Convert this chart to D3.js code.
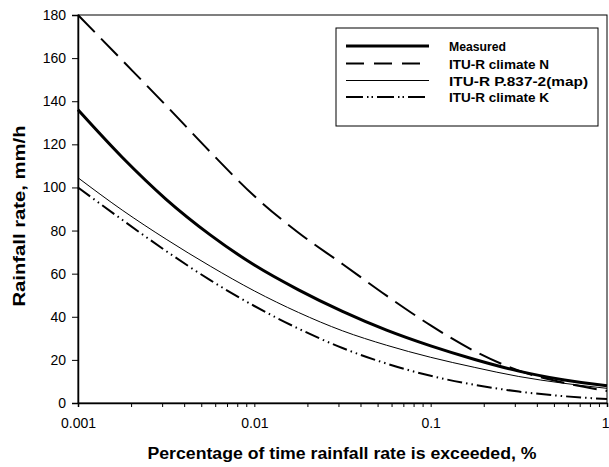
<!DOCTYPE html>
<html>
<head>
<meta charset="utf-8">
<script src="https://cdn.jsdelivr.net/npm/d3@7"></script>
<style>
  body { margin: 0; background: #fff; }
  svg { display: block; font-family: "Liberation Sans", Arial, sans-serif; }
</style>
</head>
<body>
<svg id="chart" width="609" height="467"></svg>
<script>
'use strict';

// percentage of time (x, quarter-decade steps) and rainfall rates (mm/h)
var percent = [0.001, 0.00178, 0.00316, 0.00562, 0.01, 0.0178, 0.0316, 0.0562, 0.1, 0.178, 0.316, 0.562, 1];
var measured = [136, 114, 94.5, 78, 64, 52.5, 42.5, 33.8, 26.5, 20.2, 14.8, 10.8, 8];
var climateN = [180, 159, 138, 116.5, 96, 79, 64.5, 49.8, 36, 24, 15, 9.5, 5.6];
var mapP837 = [104.5, 89.5, 76, 63.5, 52, 42, 33.5, 26.8, 21.2, 16.5, 12.3, 9.2, 6.8];
var climateK = [100, 85, 70.5, 57, 45, 34.5, 25.5, 18.3, 12.6, 8.4, 5.3, 3.2, 1.8];

var xTickValues = [0.001, 0.01, 0.1, 1];
var xTickLabels = ['0.001', '0.01', '0.1', '1'];
var yTickValues = [0, 20, 40, 60, 80, 100, 120, 140, 160, 180];

var seriesNames = ['Measured', 'ITU-R climate N', 'ITU-R P.837-2(map)', 'ITU-R climate K'];
var seriesValues = [measured, climateN, mapP837, climateK];

// line styles per series (labelWidth: width of legend text in the original)
var styles = [
  { width: 3, dash: null, legendDash: null, labelWidth: 57 },
  { width: 2, dash: '24,9', legendDash: '18,10', labelWidth: 100 },
  { width: 1, dash: null, legendDash: null, labelWidth: 139 },
  { width: 2, dash: '15,4,1.5,4,1.5,4', legendDash: '17,4,1.5,3,1.5,4', labelWidth: 100 }
];

var margin = { top: 15, left: 78, right: 2, bottom: 64 };
var svg = d3.select('#chart');
var W = +svg.attr('width'), H = +svg.attr('height');
var x0 = margin.left, x1 = W - margin.right, y0 = H - margin.bottom, y1 = margin.top;

var x = d3.scaleLog().domain([0.001, 1]).range([x0, x1]);
var y = d3.scaleLinear().domain([0, 180]).range([y0, y1]);

// frame
svg.append('rect')
  .attr('x', x0).attr('y', y1)
  .attr('width', x1 - x0).attr('height', y0 - y1)
  .attr('fill', 'none').attr('stroke', '#000').attr('stroke-width', 1);

// x axis with minor ticks
var minor = [];
[0.001, 0.01, 0.1].forEach(function(d){
  for (var k = 2; k <= 9; k++) minor.push(d * k);
});
var xAxis = svg.append('g').attr('transform', 'translate(0,' + y0 + ')');
xAxis.call(d3.axisBottom(x).tickValues(xTickValues.concat(minor)).tickSize(4).tickFormat(function(d){
  var i = xTickValues.indexOf(d);
  return i >= 0 ? xTickLabels[i] : '';
}));
xAxis.select('.domain').attr('stroke-width', 1.5);
xAxis.selectAll('text').attr('font-size', 14).attr('fill', '#000').attr('dy', '1.3em');
// last label sits against the right edge
xAxis.selectAll('.tick text').filter(function(d){ return d === 1; }).attr('text-anchor', 'end').attr('dx', 2);

var yAxis = svg.append('g').attr('transform', 'translate(' + x0 + ',0)');
yAxis.call(d3.axisLeft(y).tickValues(yTickValues).tickSize(6).tickPadding(6));
yAxis.select('.domain').attr('stroke-width', 1.5);
yAxis.selectAll('text').attr('font-size', 14).attr('fill', '#000');

// lines
var line = d3.line()
  .x(function(d){ return x(d[0]); })
  .y(function(d){ return y(d[1]); })
  .curve(d3.curveMonotoneX);

seriesValues.forEach(function(vals, i){
  var pts = percent.map(function(p, j){ return [p, vals[j]]; });
  svg.append('path')
    .datum(pts)
    .attr('d', line)
    .attr('fill', 'none')
    .attr('stroke', '#000')
    .attr('stroke-width', styles[i].width)
    .attr('stroke-dasharray', styles[i].dash);
});

// legend
var legend = svg.append('g');
legend.append('rect')
  .attr('x', 336).attr('y', 28).attr('width', 262).attr('height', 98)
  .attr('fill', '#fff').attr('stroke', '#000').attr('stroke-width', 1);
var rowY = [46, 63.5, 80.5, 97];
seriesNames.forEach(function(name, i){
  legend.append('line')
    .attr('x1', 346).attr('x2', 429).attr('y1', rowY[i]).attr('y2', rowY[i])
    .attr('stroke', '#000')
    .attr('stroke-width', styles[i].width)
    .attr('stroke-dasharray', styles[i].legendDash);
  legend.append('text')
    .attr('x', 449).attr('y', rowY[i] + 5)
    .attr('font-size', 13).attr('font-weight', 'bold')
    .attr('textLength', styles[i].labelWidth)
    .attr('lengthAdjust', 'spacingAndGlyphs')
    .text(name);
});

// axis titles (original font runs wider than Liberation, so stretch to its width)
svg.append('text')
  .attr('x', 342).attr('y', 459)
  .attr('text-anchor', 'middle')
  .attr('font-size', 16).attr('font-weight', 'bold')
  .attr('textLength', 389).attr('lengthAdjust', 'spacingAndGlyphs')
  .text('Percentage of time rainfall rate is exceeded, %');

svg.append('text')
  .attr('transform', 'translate(25,216) rotate(-90)')
  .attr('text-anchor', 'middle')
  .attr('font-size', 16).attr('font-weight', 'bold')
  .attr('textLength', 181).attr('lengthAdjust', 'spacingAndGlyphs')
  .text('Rainfall rate, mm/h');
</script>
</body>
</html>
